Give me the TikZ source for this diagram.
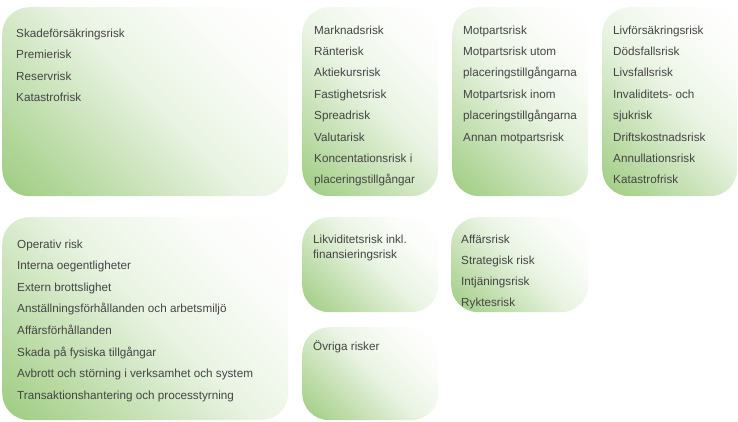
\documentclass[tikz,border=0pt]{standalone}
\usepackage{fontspec}
\setmainfont{Liberation Sans}
\definecolor{gr}{RGB}{158,204,128}
\definecolor{txtc}{RGB}{68,68,68}
\pgfdeclareverticalshading{riskshade}{100bp}{color(0bp)=(gr); color(15bp)=(gr); color(33bp)=(gr!62); color(52bp)=(gr!22); color(72bp)=(gr!4); color(86bp)=(white); color(100bp)=(white)}
\tikzset{
  riskbox/.style={draw=none, rounded corners=27pt, shading=riskshade, shading angle=-45, anchor=north west, inner sep=0pt},
  txt/.style={anchor=base west, inner sep=0pt, text=txtc, font=\fontsize{11.7}{14}\selectfont}
}
\begin{document}
\begin{tikzpicture}[x=1pt,y=-1pt]
\useasboundingbox (0,0) rectangle (738,421);
% boxes
\node[riskbox, minimum width=286pt, minimum height=189pt] (b1) at (2,7) {};
\node[riskbox, minimum width=136pt, minimum height=189pt] (b2) at (302,7) {};
\node[riskbox, minimum width=136pt, minimum height=189pt] (b3) at (452,7) {};
\node[riskbox, minimum width=135pt, minimum height=189pt] (b4) at (602,7) {};
\node[riskbox, minimum width=286pt, minimum height=203pt] (b5) at (2,217) {};
\node[riskbox, minimum width=136pt, minimum height=95pt] (b6) at (302,217) {};
\node[riskbox, minimum width=137pt, minimum height=95pt] (b7) at (451,217) {};
\node[riskbox, minimum width=136pt, minimum height=93pt] (b8) at (302,327) {};
% texts
\foreach \t [count=\i] in {Skadeförsäkringsrisk,Premierisk,Reservrisk,Katastrofrisk}
  \node[txt] (t1-\i) at (16,{37+21.6*(\i-1)}) {\t};
\foreach \t [count=\i] in {Marknadsrisk,Ränterisk,Aktiekursrisk,Fastighetsrisk,Spreadrisk,Valutarisk,Koncentationsrisk i,placeringstillgångar}
  \node[txt] (t2-\i) at (314,{34+21.4*(\i-1)}) {\t};
\foreach \t [count=\i] in {Motpartsrisk,Motpartsrisk utom,placeringstillgångarna,Motpartsrisk inom,placeringstillgångarna,Annan motpartsrisk}
  \node[txt] (t3-\i) at (463,{34+21.4*(\i-1)}) {\t};
\foreach \t [count=\i] in {Livförsäkringsrisk,Dödsfallsrisk,Livsfallsrisk,Invaliditets- och,sjukrisk,Driftskostnadsrisk,Annullationsrisk,Katastrofrisk}
  \node[txt] (t4-\i) at (613,{34+21.4*(\i-1)}) {\t};
\foreach \t [count=\i] in {Operativ risk,Interna oegentligheter,Extern brottslighet,Anställningsförhållanden och arbetsmiljö,Affärsförhållanden,Skada på fysiska tillgångar,Avbrott och störning i verksamhet och system,Transaktionshantering och processtyrning}
  \node[txt] (t5-\i) at (17,{248+21.6*(\i-1)}) {\t};
\node[txt] (t6-1) at (313,243) {Likviditetsrisk inkl.};
\node[txt] (t6-2) at (313,258) {finansieringsrisk};
\foreach \t [count=\i] in {Affärsrisk,Strategisk risk,Intjäningsrisk,Ryktesrisk}
  \node[txt] (t7-\i) at (461,{243+21.3*(\i-1)}) {\t};
\node[txt] (t8-1) at (313,350) {Övriga risker};
\end{tikzpicture}
\end{document}
